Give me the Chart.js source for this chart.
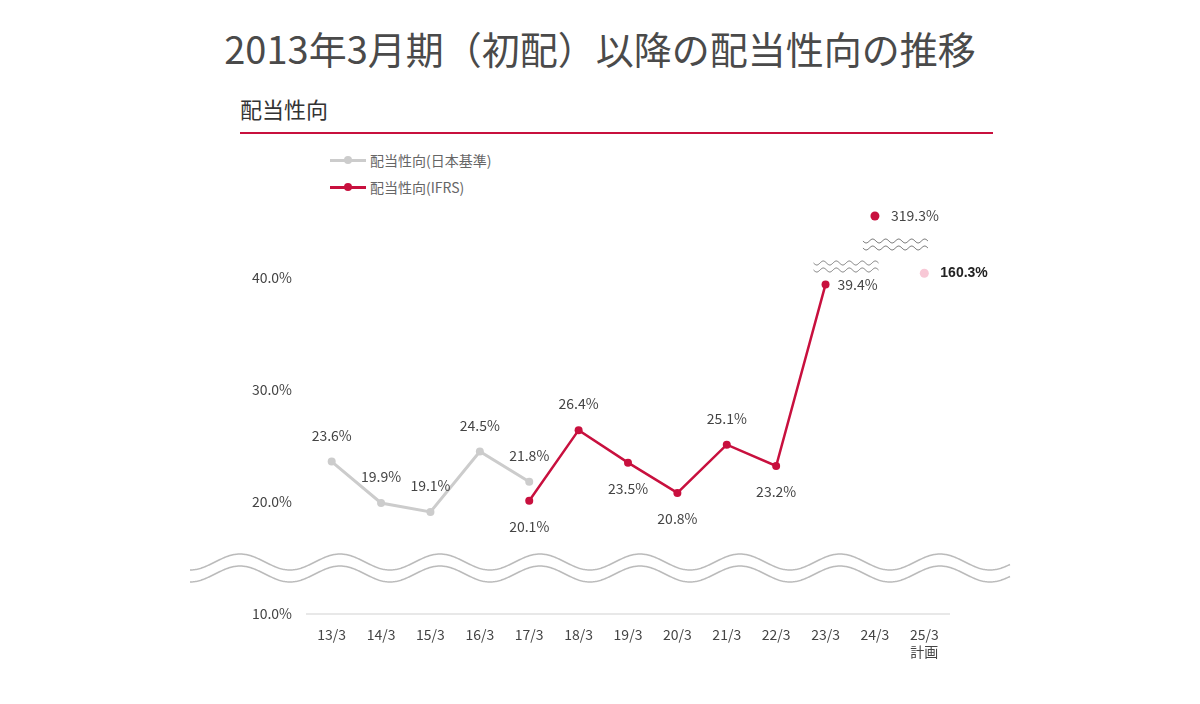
<!DOCTYPE html>
<html><head><meta charset="utf-8">
<script src="https://cdn.jsdelivr.net/npm/chart.js@4"></script>
<style>
body{margin:0;width:1200px;height:704px;position:relative;font-family:"Noto Sans CJK JP","Noto Sans",sans-serif;background:#fff;color:#444;overflow:hidden}
#title{position:absolute;top:20px;left:0;width:1200px;text-align:center;font-size:38px;color:#4a4a4a}
#sub{position:absolute;top:92px;left:240px;font-size:22px;color:#333}
#rule{position:absolute;top:132px;left:240px;width:753px;height:2px;background:#c8103e}
.lg{position:absolute;left:330px;font-size:14px;color:#666;display:flex;align-items:center}
.lg i{display:inline-block;width:36px;height:3px;position:relative;margin-right:4px}
.lg i b{position:absolute;left:14px;top:-3px;width:8px;height:8px;border-radius:50%}
canvas{position:absolute;left:0;top:0}
</style></head><body>
<div id="title">2013年3月期（初配）以降の配当性向の推移</div>
<div id="sub">配当性向</div>
<div id="rule"></div>
<div class="lg" style="top:150px"><i style="background:#ccc"><b style="background:#ccc"></b></i>配当性向(日本基準)</div>
<div class="lg" style="top:177px"><i style="background:#c8103e"><b style="background:#c8103e"></b></i>配当性向(IFRS)</div>
<canvas id="c" width="1200" height="704"></canvas>
<script>
const categories = ["13/3","14/3","15/3","16/3","17/3","18/3","19/3","20/3","21/3","22/3","23/3","24/3",["25/3","計画"]];
const jgaapValues = [23.6,19.9,19.1,24.5,21.8,null,null,null,null,null,null,null,null];
const ifrsValues = [null,null,null,null,20.1,26.4,23.5,20.8,25.1,23.2,39.4,null,null];
// values above the axis break: real value and the position on the broken axis
const brokenActual = [null,null,null,null,null,null,null,null,null,null,null,319.3,160.3];
const brokenShown = [null,null,null,null,null,null,null,null,null,null,null,45.5,40.4];
const yTicks = [10,20,30,40];
const ifrsPos = [null,null,null,null,"below","above","below","below","above","below","right",null,null];

const RED = "#c8103e", GRAY = "#cccccc";

function wave(ctx, x0, x1, y, period, amp, phase){
  ctx.beginPath();
  for(let x=x0;x<=x1;x+=1){
    const yy=y+amp*Math.sin((x-x0)/period*2*Math.PI+(phase||0));
    x===x0?ctx.moveTo(x,yy):ctx.lineTo(x,yy);
  }
  ctx.stroke();
}

const labelPlugin = {
  id:"labels",
  afterDatasetsDraw(chart){
    const ctx = chart.ctx;
    ctx.save();
    ctx.font = "14px 'Noto Sans CJK JP', sans-serif";
    ctx.fillStyle = "#444";
    ctx.textBaseline = "middle";
    const put = (meta, vals, posFn) => {
      meta.data.forEach((p,i)=>{
        const v = vals[i]; if(v==null) return;
        const pos = posFn(i);
        let x=p.x, y=p.y;
        if(pos==="above"){ctx.textAlign="center";y-=26;}
        else if(pos==="below"){ctx.textAlign="center";y+=26;}
        else {ctx.textAlign="left";x+=12;}
        ctx.fillText(v.toFixed(1)+"%", x, y);
      });
    };
    put(chart.getDatasetMeta(0), jgaapValues, ()=> "above");
    put(chart.getDatasetMeta(1), ifrsValues, i=> ifrsPos[i]);
    const m2 = chart.getDatasetMeta(2);
    m2.data.forEach((p,i)=>{
      const v = brokenActual[i]; if(v==null) return;
      ctx.textAlign="left";
      ctx.font = i===12 ? "bold 14px 'Liberation Sans', sans-serif" : "14px 'Noto Sans CJK JP', sans-serif";
      ctx.fillStyle = i===12 ? "#222" : "#444";
      ctx.fillText(v.toFixed(1)+"%", p.x+16, p.y);
    });
    // break marks
    ctx.strokeStyle="#777"; ctx.lineWidth=1;
    const x23 = chart.scales.x.getPixelForValue(10), x24 = chart.scales.x.getPixelForValue(11);
    wave(ctx, x23-12, x23+53, 263, 13, 2); wave(ctx, x23-12, x23+53, 270, 13, 2);
    wave(ctx, x24-12, x24+53, 241, 13, 2); wave(ctx, x24-12, x24+53, 248, 13, 2);
    // main axis break
    const f = (x,y0)=> y0+8*Math.sin((x-190)/100*2*Math.PI+Math.PI/2);
    ctx.fillStyle="#fff";
    ctx.beginPath();
    for(let x=190;x<=1010;x++) ctx.lineTo(x,f(x,562));
    for(let x=1010;x>=190;x--) ctx.lineTo(x,f(x,574));
    ctx.fill();
    ctx.strokeStyle="#bbb"; ctx.lineWidth=1.5;
    ctx.beginPath();
    for(let x=190;x<=1010;x++) ctx.lineTo(x,f(x,562));
    ctx.stroke();
    ctx.beginPath();
    for(let x=190;x<=1010;x++) ctx.lineTo(x,f(x,574));
    ctx.stroke();
    ctx.restore();
  }
};

new Chart(document.getElementById("c"), {
  type:"line",
  data:{
    labels: categories,
    datasets:[
      {data:jgaapValues, borderColor:GRAY, backgroundColor:GRAY, borderWidth:3, pointRadius:4, pointBorderWidth:0},
      {data:ifrsValues, borderColor:RED, backgroundColor:RED, borderWidth:2.5, pointRadius:4, pointBorderWidth:0},
      {data:brokenShown, showLine:false, pointRadius:4.5, pointBorderWidth:0,
       backgroundColor:brokenShown.map((v,i)=> i===12 ? "#f8c8d6" : RED)}
    ]
  },
  options:{
    responsive:false, animation:false,
    layout:{padding:{left:240,right:251,top:188,bottom:30}},
    plugins:{legend:{display:false}, tooltip:{enabled:false}},
    scales:{
      x:{
        offset:true,
        grid:{display:false, drawTicks:false, offset:true},
        border:{display:true, color:"#e8e8e8", width:2},
        ticks:{color:"#444", font:{size:14, family:"'Noto Sans CJK JP', sans-serif"}, padding:12, maxRotation:0, autoSkip:false},
        afterFit(s){s.height=60;}
      },
      y:{
        min:10, max:48,
        afterBuildTicks(s){s.ticks = yTicks.map(v=>({value:v}));},
        grid:{display:false, drawTicks:false},
        border:{display:false},
        ticks:{color:"#444", font:{size:14, family:"'Noto Sans CJK JP', sans-serif"}, padding:15, callback:v=>v.toFixed(1)+"%"},
        afterFit(s){s.width=67;}
      }
    }
  },
  plugins:[labelPlugin]
});
</script>
</body></html>
